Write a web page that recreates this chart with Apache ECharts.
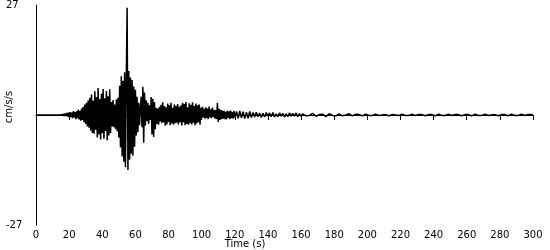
<!DOCTYPE html>
<html><head><meta charset="utf-8">
<script src="https://cdn.jsdelivr.net/npm/echarts@6/dist/echarts.min.js"></script>
<style>html,body{margin:0;padding:0;background:#fff}#c{width:550px;height:250px}</style>
</head><body><div id="c"></div>
<script>
// Acceleration (cm/s/s), 0..120 s every 0.5 s
var accEarly = [
0,0,0,0,0,0,0,0,0,0,0,0,0,0,0,0,0,0,0,0,0,0,0,0,0,0,0,0,0,0,0,0,0,
0.2,-0.3,0.4,-0.2,0.5,-0.4,0.6,-0.5,0.7,-0.5,0.6,-0.8,0.9,-0.6,0.8,-1.0,0.9,-0.8,1.3,-1.1,1.0,-1.4,1.6,-1.2,
2.0,-1.8,2.6,-2.2,3.0,-2.8,3.6,-3.1,4.2,-3.8,5.0,-4.4,
3.5,-4.6,5.8,-3.6,4.4,-5.5,6.6,-4.8,3.9,-6.0,5.2,-4.5,6.4,-5.8,4.1,-3.9,5.9,-6.2,4.6,-5.0,6.3,-4.4,
3.2,-2.8,3.7,-3.0,2.6,-3.4,3.8,-4.0,4.2,
-5.5,7.2,-8.0,9.5,-10.2,8.4,-11.5,10.5,-12.8,9.0,26.3,-13.5,10.8,-11.0,9.2,-9.5,8.6,-10.0,7.0,-7.8,6.2,
-5.0,4.5,-4.2,3.0,-2.5,1.8,
4.5,-3.0,6.9,-6.8,5.5,-2.6,
3.6,-1.5,3.0,-2.2,2.4,-1.2,
4.4,-4.8,4.0,-5.4,3.2,-3.5,
1.8,-2.2,1.6,-2.4,2.0,-1.6,
2.5,-2.0,3.1,-1.8,2.2,-2.6,1.9,-2.3,2.8,-1.7,2.4,-2.5,3.0,-2.1,1.8,-2.4,2.6,-2.0,2.2,-1.9,2.7,-2.3,2.0,-1.8,
2.4,-2.6,3.0,-1.8,2.7,-2.5,3.2,-2.2,1.9,-2.4,2.9,-2.0,2.5,-2.3,3.1,-1.9,2.2,-2.5,2.8,-2.1,2.4,-1.8,2.6,-2.4,
1.8,-0.8,2.0,-0.6,1.5,-0.9,1.9,-0.7,1.6,-1.0,2.1,-0.6,1.4,-0.8,1.8,-0.5,1.3,-0.9,
1.2,-1.0,3.0,-1.7,1.5,-1.2,1.3,-1.0,
1.1,-0.9,1.0,-1.0,0.8,-1.1,1.0,-0.7,0.9,-1.0,1.1,-0.8,0.7,-0.9,1.0,-0.6
];
// Acceleration (cm/s/s), 121..300 s every 1 s
var accLate = [
0.9,-0.8,1.0,-0.7,0.8,-0.9,0.7,-0.8,0.9,-0.6,
0.6,-0.5,0.7,-0.4,0.5,-0.6,0.4,-0.5,0.6,-0.3,0.5,-0.4,0.6,-0.5,0.3,-0.4,0.5,-0.3,0.4,-0.5,0.3,-0.4,0.5,-0.3,0.4,-0.3,0.5,-0.4,0.3,-0.3,
0.3,0.2,-0.2,-0.4,-0.1,0.3,0.4,0.1,-0.3,-0.3,0.1,0.4,0.2,-0.2,-0.4,-0.1,0.3,0.3,-0.1,-0.3,
-0.2,0.2,0.3,0.1,-0.2,-0.3,0.0,0.2,0.3,-0.1,-0.2,-0.2,0.2,0.3,0.1,-0.2,-0.2,0.0,0.2,0.2,
-0.1,-0.2,-0.1,0.2,0.2,0.1,-0.1,-0.2,0.0,0.2,0.1,-0.1,-0.2,-0.1,0.1,0.2,0.0,-0.2,-0.1,0.1,
0.2,0.1,-0.1,-0.2,-0.1,0.1,0.2,0.0,-0.1,-0.2,0.1,0.2,0.1,-0.1,-0.2,-0.1,0.1,0.2,0.1,-0.1,
-0.2,0.0,0.2,0.1,-0.1,-0.2,-0.1,0.1,0.2,0.0,-0.1,-0.2,0.1,0.2,0.1,-0.1,-0.2,-0.1,0.1,0.2,
0.1,-0.1,-0.2,0.0,0.2,0.1,-0.1,-0.2,-0.1,0.1,0.2,0.1,-0.1,-0.2,0.0,0.2,0.1,-0.1,-0.2,-0.1,
0.1,0.2,0.1,-0.1,-0.2,0.0,0.2,0.1,-0.1,-0.2,-0.1,0.1,0.2,0.0,-0.1,-0.2,0.1,0.2,0.1,0.0
];
var yTickLabels = [-27, 27];
var xTitle = 'Time (s)';
var yTitle = 'cm/s/s';

var data = [];
for (var i = 0; i < accEarly.length; i++) data.push([i * 0.5, accEarly[i]]);
for (var j = 0; j < accLate.length; j++) data.push([121 + j, accLate[j]]);

var font = 'DejaVu Sans';
var chart = echarts.init(document.getElementById('c'), null, {renderer: 'canvas'});
chart.setOption({
  animation: false,
  backgroundColor: '#fff',
  grid: {left: 36, right: 17, top: 5, bottom: 25},
  xAxis: {
    type: 'value', min: 0, max: 300, interval: 20,
    axisLine: {lineStyle: {color: '#000', width: 1}},
    axisTick: {show: true, length: 5, lineStyle: {color: '#000'}},
    axisLabel: {color: '#000', fontSize: 10, fontFamily: font, margin: 5},
    splitLine: {show: false}
  },
  yAxis: {
    type: 'value', min: -27, max: 27,
    axisLine: {show: true, onZero: false, lineStyle: {color: '#000', width: 1}},
    axisTick: {show: false},
    splitLine: {show: false},
    axisLabel: {color: '#000', fontSize: 10, fontFamily: font, align: 'left', margin: 30,
      customValues: yTickLabels, showMinLabel: true, showMaxLabel: true}
  },
  graphic: [
    {type: 'text', x: 245, y: 239, style: {text: xTitle, fill: '#000', font: '10px ' + font, align: 'center'}},
    {type: 'text', x: 9, y: 107, rotation: Math.PI / 2,
      style: {text: yTitle, fill: '#000', font: '10px ' + font, align: 'center', verticalAlign: 'middle'}}
  ],
  series: [{
    type: 'line', data: data, showSymbol: false, symbol: 'none', sampling: null,
    lineStyle: {color: '#000', width: 1.5}, silent: true
  }]
});
</script></body></html>
